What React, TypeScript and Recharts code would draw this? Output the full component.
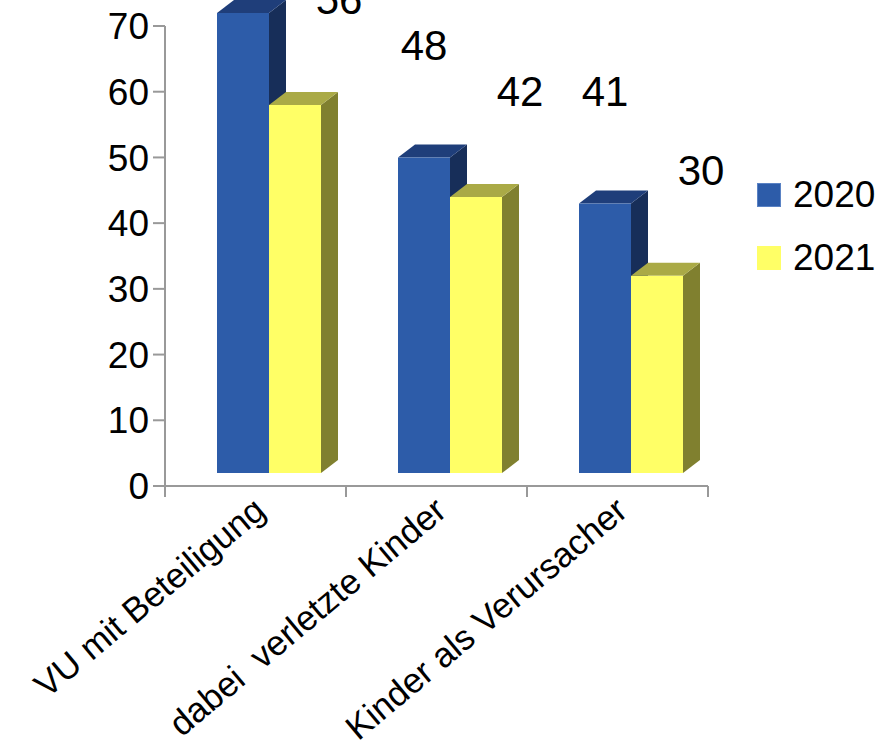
import { BarChart, Bar, XAxis, YAxis, Legend, LabelList } from 'recharts'

const categories = ['VU mit Beteiligung', 'dabei  verletzte Kinder', 'Kinder als Verursacher']
const values2020 = [70, 48, 41]
const values2021 = [56, 42, 30]
const yTicks = [0, 10, 20, 30, 40, 50, 60, 70]

const data = categories.map((name, i) => ({ name, y2020: values2020[i], y2021: values2021[i] }))

const W = 888
const H = 748
const margin = { top: 26, right: 180, left: 0, bottom: 0 }
const yAxisWidth = 165
const xAxisHeight = 262
const band = (W - margin.right - yAxisWidth) / categories.length

const font = '"Liberation Sans", Arial, sans-serif'
const axisColor = '#999999'

// 3D look: front face moved a bit up/right, top and side faces drawn as polygons
const SHIFT_X = 13
const SHIFT_Y = -13
const DEPTH_X = 17
const DEPTH_Y = 13

const colors = {
  y2020: { front: '#2d5ca9', top: '#1f3e7a', side: '#172e59' },
  y2021: { front: '#ffff66', top: '#aaaa46', side: '#80802f' }
}

const box3d = (key: 'y2020' | 'y2021') => (props: any) => {
  const { x, y, width, height } = props
  const c = colors[key]
  const fx = x + SHIFT_X
  const fy = y + SHIFT_Y
  const top = `${fx},${fy} ${fx + width},${fy} ${fx + width + DEPTH_X},${fy - DEPTH_Y} ${fx + DEPTH_X},${fy - DEPTH_Y}`
  const side = `${fx + width},${fy} ${fx + width + DEPTH_X},${fy - DEPTH_Y} ${fx + width + DEPTH_X},${fy + height - DEPTH_Y} ${fx + width},${fy + height}`
  return (
    <g>
      <polygon points={side} fill={c.side} />
      <polygon points={top} fill={c.top} />
      <rect x={fx} y={fy} width={width} height={height} fill={c.front} />
    </g>
  )
}

const valueLabel = (dx: number, dy: number) => (props: any) => {
  const { x, y, width, value } = props
  return (
    <text x={x + width / 2 + SHIFT_X + dx} y={y + SHIFT_Y - dy + 15} textAnchor="middle" fontSize={42} fontFamily={font} fill="#000">
      {value}
    </text>
  )
}

const CategoryTick = (props: any) => {
  const { x, y, payload } = props
  const tx = x + 12
  const ty = y + 28
  return (
    <g>
      <line x1={x - band / 2} x2={x - band / 2} y1={y} y2={y + 11} stroke={axisColor} strokeWidth={2} />
      <line x1={x + band / 2} x2={x + band / 2} y1={y} y2={y + 11} stroke={axisColor} strokeWidth={2} />
      <text
        x={tx}
        y={ty}
        transform={`rotate(-40, ${tx}, ${ty})`}
        textAnchor="end"
        fontSize={35}
        fontFamily={font}
        fill="#000"
        style={{ whiteSpace: 'pre' }}
      >
        {payload.value}
      </text>
    </g>
  )
}

const LegendBox = () => (
  <svg width={131} height={120}>
    <rect x={0.5} y={13.5} width={23} height={23} fill={colors.y2020.front} stroke="#5a82c4" />
    <text x={36} y={37} fontSize={37} fontFamily={font} fill="#000">2020</text>
    <rect x={0} y={76} width={24} height={24} fill={colors.y2021.front} />
    <text x={36} y={100} fontSize={37} fontFamily={font} fill="#000">2021</text>
  </svg>
)

export default function App() {
  return (
    <div style={{ position: 'absolute', left: 0, top: 0, width: W, height: H, background: '#fff' }}>
      <BarChart width={W} height={H} data={data} margin={margin} barCategoryGap={39} barGap={0}>
        <XAxis
          dataKey="name"
          height={xAxisHeight}
          axisLine={{ stroke: axisColor, strokeWidth: 2 }}
          tickLine={false}
          tickSize={0}
          tickMargin={0}
          interval={0}
          tick={<CategoryTick />}
        />
        <YAxis
          width={yAxisWidth}
          domain={[0, 70]}
          ticks={yTicks}
          interval={0}
          axisLine={{ stroke: axisColor, strokeWidth: 2 }}
          tickLine={{ stroke: axisColor, strokeWidth: 2 }}
          tickSize={12}
          tickMargin={4}
          tick={{ fill: '#000', fontSize: 37, fontFamily: font }}
        />
        <Legend
          layout="vertical"
          align="center"
          verticalAlign="middle"
          content={<LegendBox />}
          wrapperStyle={{ left: 757, top: 170, width: 131, height: 120 }}
        />
        <Bar dataKey="y2020" name="2020" fill={colors.y2020.front} shape={box3d('y2020')} isAnimationActive={false}>
          <LabelList dataKey="y2020" content={valueLabel(0, 113)} />
        </Bar>
        <Bar dataKey="y2021" name="2021" fill={colors.y2021.front} shape={box3d('y2021')} isAnimationActive={false}>
          <LabelList dataKey="y2021" content={valueLabel(44, 106)} />
        </Bar>
      </BarChart>
    </div>
  )
}
